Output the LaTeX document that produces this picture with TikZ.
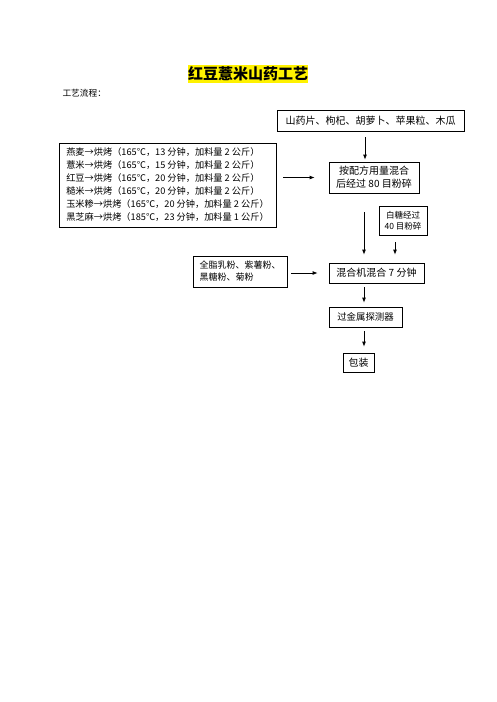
\documentclass[tikz,border=0pt]{standalone}
\usepackage{fontspec}
\setmainfont{Noto Sans CJK SC}
\usetikzlibrary{arrows.meta}
\newcommand\fsz[2]{\fontsize{#1}{#2}\selectfont}
\begin{document}
\begin{tikzpicture}[x=1pt,y=-1pt,
  bx/.style={draw, line width=0.8pt, inner sep=0pt, align=center, font=\fsz{10}{13}},
  hl/.style={fill=yellow, inner xsep=0pt, inner ysep=0pt, minimum height=18pt, font=\fsz{15}{18}\bfseries},
  arr/.style={-{Latex[length=5pt,width=4pt]}, line width=0.8pt}]
\useasboundingbox[fill=white] (0,0) rectangle (496,702);
\node[hl] (title) at (248,74) {红豆薏米山药工艺};
\node[anchor=west, font=\fsz{8.7}{10}] (lbl) at (59,93) {工艺流程：};
\node[bx, minimum width=187pt, minimum height=21pt] (b1) at (370.5,120.5) {山药片、枸杞、胡萝卜、苹果粒、木瓜};
\node[bx, minimum width=217pt, minimum height=84pt, align=left, font=\fsz{9.2}{13}] (left) at (167.5,185) {燕麦→烘烤（165℃，13 分钟，加料量 2 公斤）\\薏米→烘烤（165℃，15 分钟，加料量 2 公斤）\\红豆→烘烤（165℃，20 分钟，加料量 2 公斤）\\糙米→烘烤（165℃，20 分钟，加料量 2 公斤）\\玉米糁→烘烤（165℃，20 分钟，加料量 2 公斤）\\黑芝麻→烘烤（185℃，23 分钟，加料量 1 公斤）};
\node[bx, minimum width=90pt, minimum height=31pt] (m1) at (374,177.5) {按配方用量混合\\后经过 80 目粉碎};
\node[bx, minimum width=48pt, minimum height=29pt, font=\fsz{8.5}{11.5}] (sug) at (403,220.5) {白糖经过\\40 目粉碎};
\node[bx, minimum width=95pt, minimum height=20pt] (m2) at (376.5,273) {混合机混合 7 分钟};
\node[bx, minimum width=94pt, minimum height=31pt, align=left, font=\fsz{9}{12}] (milk) at (240,271.5) {全脂乳粉、紫薯粉、\\黑糖粉、菊粉};
\node[bx, minimum width=73pt, minimum height=20pt, font=\fsz{9.4}{11}] (met) at (365.5,317) {过金属探测器};
\node[bx, minimum width=31pt, minimum height=19pt] (pk) at (358.5,362.5) {包装};
\coordinate (cxa) at (365,0);
\coordinate (cxb) at (364,0);
\coordinate (cxc) at (395,0);
\draw[arr, shorten <=6pt, shorten >=2pt] (b1.south -| cxa) -- (m1.north -| cxa);
\draw[arr, shorten <=7pt, shorten >=14pt] (left.east |- m1.west) -- (m1.west);
\draw[arr, shorten <=19pt, shorten >=8pt] (m1.south -| cxb) -- (m2.north -| cxb);
\draw[arr, shorten <=7pt, shorten >=8pt] (sug.south -| cxc) -- (m2.north -| cxc);
\draw[arr, shorten <=4pt, shorten >=11pt] (milk.east |- m2.west) -- (m2.west);
\draw[arr, shorten <=4pt, shorten >=4pt] (m2.south -| cxb) -- (met.north -| cxb);
\draw[arr, shorten <=4pt, shorten >=6pt] (met.south -| cxb) -- (pk.north -| cxb);
\end{tikzpicture}
\end{document}
